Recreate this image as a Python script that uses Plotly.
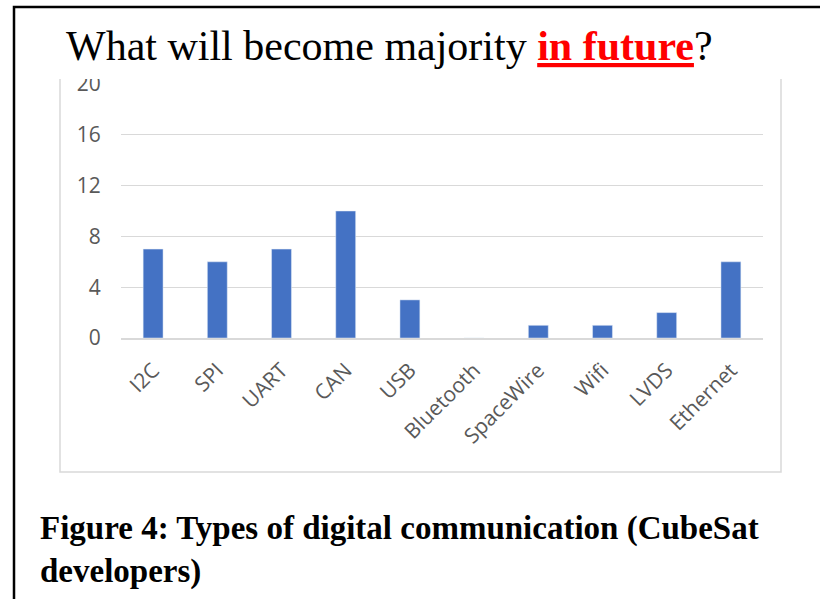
import plotly.graph_objects as go

categories = ["I2C", "SPI", "UART", "CAN", "USB", "Bluetooth", "SpaceWire", "Wifi", "LVDS", "Ethernet"]
values = [7, 6, 7, 10, 3, 0, 1, 1, 2, 6]
y_ticks = [0, 4, 8, 12, 16, 20]

W, H = 820, 599
L, R, T, B = 121, 57, 84, 261
PW, PH = W - L - R, H - T - B

def px(x):
    return (x - L) / PW

def py(y):
    return (H - B - y) / PH

fig = go.Figure(go.Bar(x=categories, y=values, marker_color="#4472C4", width=0.31))

fig.update_layout(
    width=W, height=H,
    margin=dict(l=L, r=R, t=T, b=B),
    paper_bgcolor="white", plot_bgcolor="white",
    showlegend=False,
    xaxis=dict(range=[-0.5, 9.5], tickangle=-45, showgrid=False, showline=True,
               linecolor="#D9D9D9", linewidth=1.5, ticks="", ticklabelstandoff=10,
               tickfont=dict(family="Open Sans, Liberation Sans", size=21, color="#595959")),
    yaxis=dict(range=[0, 20], tickvals=y_ticks, showgrid=True, gridcolor="#D9D9D9",
               gridwidth=1.2, zeroline=False, showline=False, ticks="outside", ticklen=15,
               tickcolor="rgba(0,0,0,0)",
               tickfont=dict(family="Open Sans, Liberation Sans", size=21, color="#595959")),
    shapes=[
        dict(type="rect", xref="paper", yref="paper", x0=px(60), x1=px(781), y0=py(472), y1=py(78),
             line=dict(color="#D9D9D9", width=1.5), fillcolor="rgba(0,0,0,0)", layer="below"),
        dict(type="rect", xref="paper", yref="paper", x0=px(14), x1=px(840), y0=py(620), y1=py(7),
             line=dict(color="black", width=2.5), fillcolor="rgba(0,0,0,0)", layer="above"),
    ],
    annotations=[
        # white band hiding the top of the "20" label, as in the reference
        dict(xref="paper", yref="paper", x=px(50), y=py(79.5), xanchor="left", yanchor="bottom",
             showarrow=False, text=" ", width=750, height=60, bgcolor="white", borderpad=0,
             borderwidth=0),
        dict(xref="paper", yref="paper", x=px(64), y=py(46), xanchor="left", yanchor="middle",
             showarrow=False,
             text='What will become majority <span style="color:#FF0000"><b><u>in future</u></b></span>?',
             font=dict(family="Liberation Serif, Times New Roman", size=42, color="black")),
        dict(xref="paper", yref="paper", x=px(38), y=py(550), xanchor="left", yanchor="middle",
             showarrow=False, align="left",
             text="<b>Figure 4: Types of digital communication (CubeSat<br>developers)</b>",
             font=dict(family="Liberation Serif, Times New Roman", size=33, color="black")),
    ],
)

fig.write_html("out.html")
